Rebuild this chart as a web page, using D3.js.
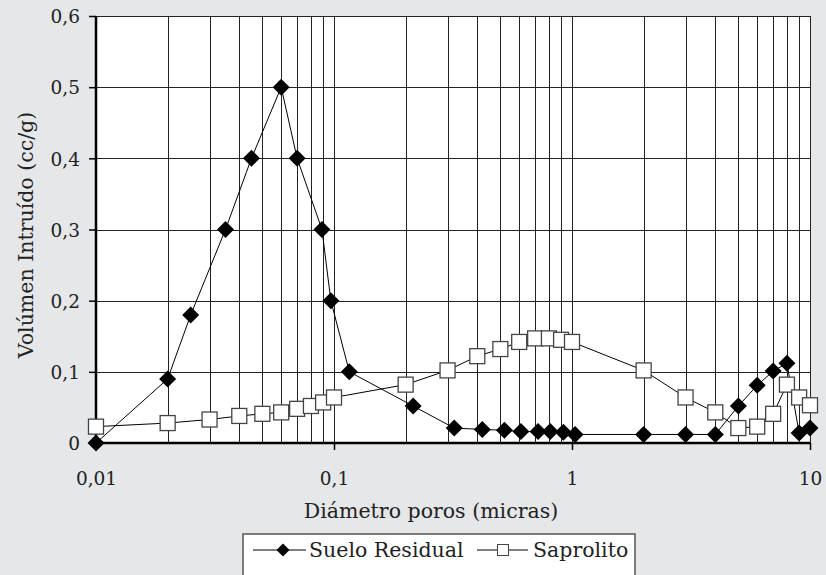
<!DOCTYPE html>
<html><head><meta charset="utf-8">
<script src="https://cdn.jsdelivr.net/npm/d3@7"></script>
<style>html,body{margin:0;padding:0;background:#e6e7e9;}svg{display:block;}</style>
</head><body>
<svg id="c" width="826" height="575"></svg>
<script>
const residualX = [0.01, 0.02, 0.025, 0.035, 0.045, 0.06, 0.07, 0.089, 0.097, 0.116, 0.215, 0.32, 0.42, 0.52, 0.61, 0.72, 0.81, 0.92, 1.03, 2, 3, 4, 5, 6, 7, 8, 9, 10];
const residualY = [0, 0.09, 0.18, 0.3, 0.4, 0.5, 0.4, 0.3, 0.2, 0.1, 0.052, 0.021, 0.019, 0.018, 0.016, 0.016, 0.016, 0.015, 0.012, 0.012, 0.012, 0.012, 0.052, 0.081, 0.101, 0.112, 0.014, 0.021];
const saproX = [0.01, 0.02, 0.03, 0.04, 0.05, 0.06, 0.07, 0.08, 0.09, 0.1, 0.2, 0.3, 0.4, 0.5, 0.6, 0.7, 0.8, 0.9, 1, 2, 3, 4, 5, 6, 7, 8, 9, 10];
const saproY = [0.023, 0.028, 0.033, 0.038, 0.041, 0.043, 0.048, 0.052, 0.057, 0.064, 0.082, 0.102, 0.122, 0.132, 0.142, 0.147, 0.147, 0.145, 0.142, 0.102, 0.064, 0.043, 0.021, 0.023, 0.041, 0.082, 0.064, 0.053];
const yTicks = [0, 0.1, 0.2, 0.3, 0.4, 0.5, 0.6];
const xTicks = [0.01, 0.1, 1, 10];
const xTickLabels = ["0,01", "0,1", "1", "10"];
const seriesNames = ["Suelo Residual", "Saprolito"];
const xTitle = "Diámetro poros (micras)";
const yTitle = "Volúmen Intruído (cc/g)";

const FONT = "DejaVu Serif";
const TS = 20.5;
const svg = d3.select("#c");
const L = 96, R = 810, T = 16, B = 443;
const x = d3.scaleLog().domain([0.01, 10]).range([L, R]);
const y = d3.scaleLinear().domain([0, 0.6]).range([B, T]);

svg.append("rect").attr("x", L).attr("y", T).attr("width", R - L).attr("height", B - T).attr("fill", "#fff");

// vertical grid (log minor)
const vGrid = [];
for (let d = 0.01; d < 10; d *= 10) for (let k = 1; k <= 10; k++) vGrid.push(+(d * k).toPrecision(3));
const vg = Array.from(new Set(vGrid));
svg.append("g").selectAll("line").data(vg).join("line")
  .attr("x1", d => Math.round(x(d)) + 0.5).attr("x2", d => Math.round(x(d)) + 0.5)
  .attr("y1", T).attr("y2", B).attr("stroke", "#222").attr("stroke-width", 1);
svg.append("g").selectAll("line").data(yTicks).join("line")
  .attr("x1", L).attr("x2", R).attr("y1", d => Math.round(y(d)) + 0.5).attr("y2", d => Math.round(y(d)) + 0.5)
  .attr("stroke", "#222").attr("stroke-width", 1);

// axes
const yAxis = d3.axisLeft(y).tickValues(yTicks).tickSize(7).tickFormat(d => d3.format(".1f")(d).replace(".", ",").replace(/^0,0$/, "0"));
const gy = svg.append("g").attr("transform", `translate(${L},0)`).call(yAxis);
gy.select(".domain").remove();
gy.selectAll(".tick line").attr("stroke", "#000").attr("stroke-width", 1.5);
gy.selectAll(".tick text").attr("font-family", FONT).attr("font-size", 18.5).attr("fill", "#222").attr("x", -16).attr("dy", "0.36em");

const xAxis = d3.axisBottom(x).tickValues(xTicks).tickSize(7).tickFormat((d, i) => xTickLabels[i]);
const gx = svg.append("g").attr("transform", `translate(0,${B})`).call(xAxis);
gx.select(".domain").remove();
gx.selectAll(".tick line").attr("stroke", "#000").attr("stroke-width", 1.5);
gx.selectAll(".tick text").attr("font-family", FONT).attr("font-size", 18.5).attr("fill", "#222").attr("y", 42).attr("dy", 0);

svg.append("line").attr("x1", L).attr("x2", L).attr("y1", T).attr("y2", B + 1).attr("stroke", "#000").attr("stroke-width", 2.5);
svg.append("line").attr("x1", L - 1).attr("x2", R).attr("y1", B).attr("y2", B).attr("stroke", "#000").attr("stroke-width", 2.5);

// lines
const lineGen = d3.line().x(d => x(d[0])).y(d => y(d[1]));
const res = residualX.map((v, i) => [v, residualY[i]]);
const sap = saproX.map((v, i) => [v, saproY[i]]);
svg.append("path").datum(sap).attr("d", lineGen).attr("fill", "none").attr("stroke", "#000").attr("stroke-width", 1);
svg.append("path").datum(res).attr("d", lineGen).attr("fill", "none").attr("stroke", "#000").attr("stroke-width", 1);

// markers
svg.append("g").selectAll("rect").data(sap).join("rect")
  .attr("x", d => x(d[0]) - 7.5).attr("y", d => y(d[1]) - 7.5).attr("width", 15).attr("height", 15)
  .attr("fill", "#fff").attr("stroke", "#444").attr("stroke-width", 1.3);
const diamond = s => `M0,${-s}L${s},0L0,${s}L${-s},0Z`;
svg.append("g").selectAll("path").data(res).join("path")
  .attr("transform", d => `translate(${x(d[0])},${y(d[1])})`).attr("d", diamond(8.5)).attr("fill", "#000");

// titles
svg.append("text").attr("x", 431).attr("y", 518).attr("text-anchor", "middle").attr("font-family", FONT).attr("font-size", TS).attr("fill", "#222").text(xTitle);
svg.append("text").attr("transform", "translate(33,235) rotate(-90)").attr("text-anchor", "middle").attr("font-family", FONT).attr("font-size", TS).attr("fill", "#222").text(yTitle);

// legend
const lg = svg.append("g");
lg.append("rect").attr("x", 243).attr("y", 534).attr("width", 392).attr("height", 60).attr("fill", "#fff").attr("stroke", "#555").attr("stroke-width", 1.5);
const ly = 550;
lg.append("line").attr("x1", 253).attr("x2", 306).attr("y1", ly).attr("y2", ly).attr("stroke", "#000");
lg.append("path").attr("transform", `translate(283,${ly})`).attr("d", diamond(6.5)).attr("fill", "#000");
lg.append("text").attr("x", 309).attr("y", 557).attr("font-family", FONT).attr("font-size", TS).attr("fill", "#222").text(seriesNames[0]);
lg.append("line").attr("x1", 477).attr("x2", 528).attr("y1", ly).attr("y2", ly).attr("stroke", "#000");
lg.append("rect").attr("x", 497.5).attr("y", ly - 5.5).attr("width", 11).attr("height", 11).attr("fill", "#fff").attr("stroke", "#444").attr("stroke-width", 1);
lg.append("text").attr("x", 533).attr("y", 557).attr("font-family", FONT).attr("font-size", TS).attr("fill", "#222").text(seriesNames[1]);
</script>
</body></html>
